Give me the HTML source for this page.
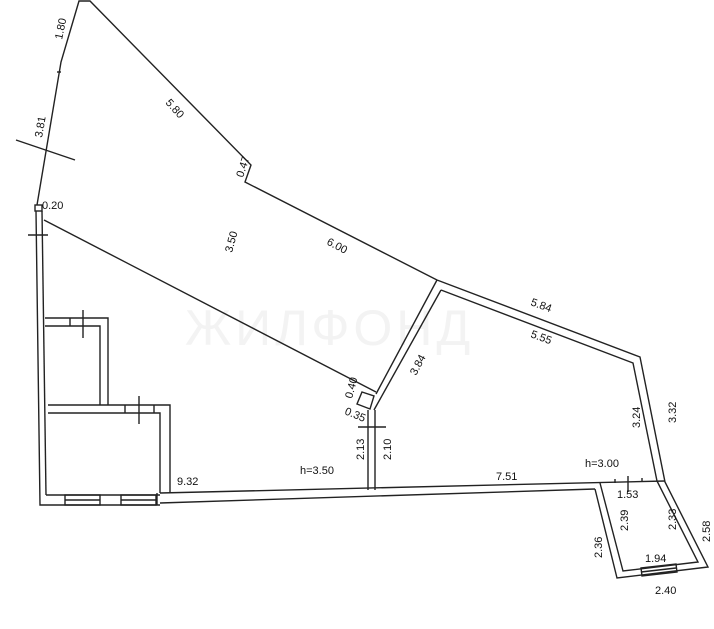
<!DOCTYPE html>
<html><head><meta charset="utf-8"><style>
html,body{margin:0;padding:0;background:#fff;}
svg{display:block;}
text{font-family:"Liberation Sans",sans-serif;font-size:11px;fill:#111;}
</style></head><body>
<svg width="714" height="629" viewBox="0 0 714 629" xmlns="http://www.w3.org/2000/svg">
<text x="185" y="345" style="font-size:50px;fill:#f3f3f3;letter-spacing:4px">ЖИЛФОНД</text>
<g stroke="#222" stroke-width="1.4" fill="none">
<polyline points="37,205 61,62 79,1 90,1 251,165 245,182 437,280"/>
<line x1="16" y1="140" x2="75" y2="160"/>
<line x1="57" y1="72" x2="61" y2="72"/>
<rect x="35" y="205" width="7" height="6"/>
<polyline points="36,211 40,505 160,505"/>
<polyline points="42,211 46,495"/>
<line x1="28" y1="235" x2="48" y2="235"/>
<line x1="44" y1="220" x2="376" y2="392"/>
<polyline points="45,318 108,318 108,405"/>
<polyline points="45,326 100,326 100,405"/>
<line x1="70" y1="318" x2="70" y2="326"/>
<line x1="83" y1="310" x2="83" y2="338"/>
<polyline points="48,405 170,405 170,493"/>
<polyline points="48,413 160,413 160,493"/>
<line x1="125" y1="405" x2="125" y2="413"/>
<line x1="154" y1="405" x2="154" y2="413"/>
<line x1="139" y1="396" x2="139" y2="424"/>
<line x1="46" y1="495" x2="160" y2="495"/>
<rect x="65" y="495" width="35" height="10"/>
<rect x="121" y="495" width="35" height="10"/>
<line x1="65" y1="500" x2="100" y2="500"/>
<line x1="121" y1="500" x2="156" y2="500"/>
<line x1="157" y1="493" x2="157" y2="505"/>
<line x1="160" y1="493" x2="665" y2="481"/>
<line x1="160" y1="503" x2="595" y2="489"/>
<line x1="437" y1="280" x2="376" y2="394"/>
<line x1="441" y1="290" x2="374" y2="410"/>
<polygon points="362,392 374,396 370,409 357,404"/>
<line x1="368" y1="410" x2="368" y2="490"/>
<line x1="375" y1="410" x2="375" y2="490"/>
<line x1="358" y1="427" x2="386" y2="427"/>
<polyline points="437,280 640,357 665,482 708,567 617,578 595,489"/>
<polyline points="441,290 633,363 657,481 698,562 623,571 600,483"/>
<polygon points="641,568 676,564 677,572 642,576"/>
<line x1="641" y1="572" x2="676" y2="568"/>
<line x1="615" y1="483" x2="615" y2="479"/>
<line x1="628" y1="476" x2="628" y2="492"/>
<line x1="642" y1="482" x2="642" y2="478"/>
</g>
<text transform="translate(62,40) rotate(-78)">1.80</text>
<text transform="translate(42,138) rotate(-80)">3.81</text>
<text transform="translate(165,103) rotate(48)">5.80</text>
<text transform="translate(243,178) rotate(-72)">0.47</text>
<text x="42" y="209">0.20</text>
<text transform="translate(232,253) rotate(-75)">3.50</text>
<text transform="translate(326,244) rotate(28)">6.00</text>
<text transform="translate(416,376) rotate(-62)">3.84</text>
<text transform="translate(530,305) rotate(20)">5.84</text>
<text transform="translate(530,337) rotate(20)">5.55</text>
<text transform="translate(352,399) rotate(-75)">0.40</text>
<text transform="translate(344,414) rotate(22)">0.35</text>
<text transform="translate(364,460) rotate(-90)">2.13</text>
<text transform="translate(391,460) rotate(-90)">2.10</text>
<text x="177" y="485">9.32</text>
<text x="300" y="474">h=3.50</text>
<text x="496" y="480">7.51</text>
<text x="585" y="467">h=3.00</text>
<text transform="translate(640,428) rotate(-90)">3.24</text>
<text transform="translate(676,423) rotate(-90)">3.32</text>
<text x="617" y="498">1.53</text>
<text transform="translate(628,531) rotate(-90)">2.39</text>
<text transform="translate(676,530) rotate(-90)">2.33</text>
<text transform="translate(602,558) rotate(-90)">2.36</text>
<text transform="translate(710,542) rotate(-90)">2.58</text>
<text x="645" y="562">1.94</text>
<text x="655" y="594">2.40</text>
</svg>
</body></html>
